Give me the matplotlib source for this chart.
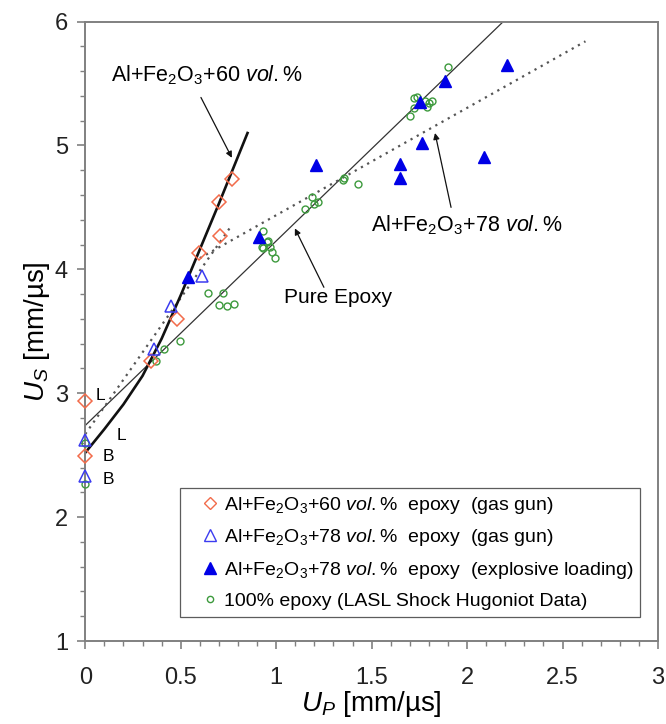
import matplotlib
matplotlib.use("Agg")
import matplotlib.pyplot as plt
from matplotlib.lines import Line2D
from matplotlib.ticker import MultipleLocator

plt.rcParams["font.family"] = ["Liberation Sans", "DejaVu Sans"]
plt.rcParams["mathtext.fontset"] = "custom"
plt.rcParams["mathtext.rm"] = "Liberation Sans"
plt.rcParams["mathtext.it"] = "Liberation Sans:italic"

# Al+Fe2O3+60 vol.% epoxy (gas gun)
up_60 = [0.0, 0.0, 0.345, 0.48, 0.597, 0.705, 0.70, 0.77]
us_60 = [2.94, 2.49, 3.26, 3.60, 4.13, 4.27, 4.54, 4.73]

# Al+Fe2O3+78 vol.% epoxy (gas gun)
up_78g = [0.0, 0.0, 0.36, 0.45, 0.61]
us_78g = [2.62, 2.33, 3.36, 3.70, 3.95]

# Al+Fe2O3+78 vol.% epoxy (explosive loading)
up_78e = [0.54, 0.91, 1.21, 1.65, 1.65, 1.765, 1.755, 1.885, 2.09, 2.21]
us_78e = [3.94, 4.26, 4.84, 4.85, 4.74, 5.02, 5.35, 5.52, 4.91, 5.65]

# 100% epoxy (LASL)
up_ep = [0.0, 0.0, 0.37, 0.41, 0.497, 0.644, 0.72, 0.70, 0.74, 0.78,
         0.925, 0.93, 0.93, 0.95, 0.957, 0.97, 0.98, 0.995,
         1.15, 1.19, 1.20, 1.22, 1.35, 1.355, 1.43,
         1.70, 1.72, 1.72, 1.74, 1.78, 1.79, 1.80, 1.815, 1.90]
us_ep = [2.60, 2.27, 3.26, 3.36, 3.42, 3.81, 3.81, 3.71, 3.70, 3.72,
         4.18, 4.31, 4.17, 4.22, 4.23, 4.18, 4.14, 4.09,
         4.49, 4.58, 4.53, 4.54, 4.72, 4.74, 4.69,
         5.24, 5.30, 5.38, 5.39, 5.36, 5.31, 5.34, 5.36, 5.63]

# fitted Hugoniot lines
fit60_up = [0.0, 0.1, 0.2, 0.3, 0.4, 0.5, 0.6, 0.7, 0.85]
fit60_us = [2.52, 2.71, 2.91, 3.14, 3.44, 3.79, 4.16, 4.53, 5.10]
fitep_up = [0.0, 2.19]
fitep_us = [2.74, 6.0]
fit78a_up = [0.0, 0.76]
fit78a_us = [2.67, 4.34]
fit78b_up = [0.60, 2.62]
fit78b_us = [4.09, 5.84]

red = "#f26b4a"
blue = "#0000e6"
blue_h = "#3c3cf0"
green = "#3d9a3d"

fig = plt.figure(figsize=(6.66, 7.24), dpi=100)
ax = fig.add_axes([0.128, 0.1146, 0.86, 0.8557])

ax.plot(fitep_up, fitep_us, color="#333333", lw=0.9, zorder=2)
ax.plot(fit78a_up, fit78a_us, color="#555555", lw=1.6, ls=(0, (1, 2.2)), zorder=2)
ax.plot(fit78b_up, fit78b_us, color="#555555", lw=1.6, ls=(0, (1, 2.2)), zorder=2)
ax.plot(fit60_up, fit60_us, color="#111111", lw=1.9, zorder=2)

ax.plot(up_ep, us_ep, "o", ms=5, mfc="none", mec=green, mew=1.0, zorder=3, clip_on=False)
ax.plot(up_60, us_60, "D", ms=7, mfc="none", mec=red, mew=1.1, zorder=4, clip_on=False)
ax.plot(up_78g, us_78g, "^", ms=9, mfc="none", mec=blue_h, mew=1.1, zorder=4, clip_on=False)
ax.plot(up_78e, us_78e, "^", ms=9, color=blue, zorder=4)

arrow = dict(arrowstyle="-|>", color="#111111", lw=0.9, mutation_scale=9,
             shrinkA=0, shrinkB=0)
ax.text(0.637, 5.565, r"Al+Fe$_2$O$_3$+60 $\mathit{vol.\%}$", ha="center",
        va="center", fontsize=15.5)
ax.annotate("", xy=(0.768, 4.90), xytext=(0.606, 5.387), arrowprops=arrow)
ax.text(2.0, 4.355, r"Al+Fe$_2$O$_3$+78 $\mathit{vol.\%}$", ha="center",
        va="center", fontsize=15.5)
ax.annotate("", xy=(1.832, 5.10), xytext=(1.916, 4.50), arrowprops=arrow)
ax.text(1.325, 3.774, "Pure Epoxy", ha="center", va="center", fontsize=15)
ax.annotate("", xy=(1.098, 4.33), xytext=(1.25, 3.855), arrowprops=arrow)

for tx, ty, s in [(0.077, 2.98, "L"), (0.187, 2.66, "L"),
                  (0.12, 2.49, "B"), (0.12, 2.30, "B")]:
    ax.text(tx, ty, s, ha="center", va="center", fontsize=12.5)

ax.set_xlim(0, 3)
ax.set_ylim(1, 6)
ax.set_xticks([0, 0.5, 1, 1.5, 2, 2.5, 3])
ax.set_xticklabels(["0", "0.5", "1", "1.5", "2", "2.5", "3"])
ax.xaxis.set_minor_locator(MultipleLocator(0.1))
ax.yaxis.set_major_locator(MultipleLocator(1))
ax.yaxis.set_minor_locator(MultipleLocator(0.2))
ax.tick_params(which="major", length=5.5, width=1.2, color="#808080",
               labelsize=17, labelcolor="#222222")
ax.tick_params(axis="x", which="major", pad=13)
ax.tick_params(axis="y", which="major", pad=7)
ax.tick_params(which="minor", length=3.5, width=1.0, color="#808080")
for sp in ax.spines.values():
    sp.set_color("#808080")
    sp.set_linewidth(1.4)

ax.set_xlabel(r"$U_P$ [mm/µs]", fontsize=20, labelpad=0)
ax.set_ylabel(r"$U_S$ [mm/µs]", fontsize=20, labelpad=2)

handles = [
    Line2D([], [], ls="none", marker="D", ms=6.5, mfc="none", mec=red, mew=1.0),
    Line2D([], [], ls="none", marker="^", ms=8, mfc="none", mec=blue_h, mew=1.0),
    Line2D([], [], ls="none", marker="^", ms=8, color=blue),
    Line2D([], [], ls="none", marker="o", ms=4.5, mfc="none", mec=green, mew=1.0),
]
labels = [
    r"Al+Fe$_2$O$_3$+60 $\mathit{vol.\%}$  epoxy  (gas gun)",
    r"Al+Fe$_2$O$_3$+78 $\mathit{vol.\%}$  epoxy  (gas gun)",
    r"Al+Fe$_2$O$_3$+78 $\mathit{vol.\%}$  epoxy  (explosive loading)",
    "100% epoxy (LASL Shock Hugoniot Data)",
]
leg = ax.legend(handles, labels, loc="lower left",
                bbox_to_anchor=(0.165, 0.0387, 0.803, 0.216), mode="expand",
                borderaxespad=0, fontsize=14, frameon=True, fancybox=False,
                edgecolor="#333333", handlelength=2.4, handletextpad=-0.5,
                labelspacing=0.6, borderpad=0.35)
leg.get_frame().set_linewidth(0.9)

fig.savefig("out.png", dpi=100)
